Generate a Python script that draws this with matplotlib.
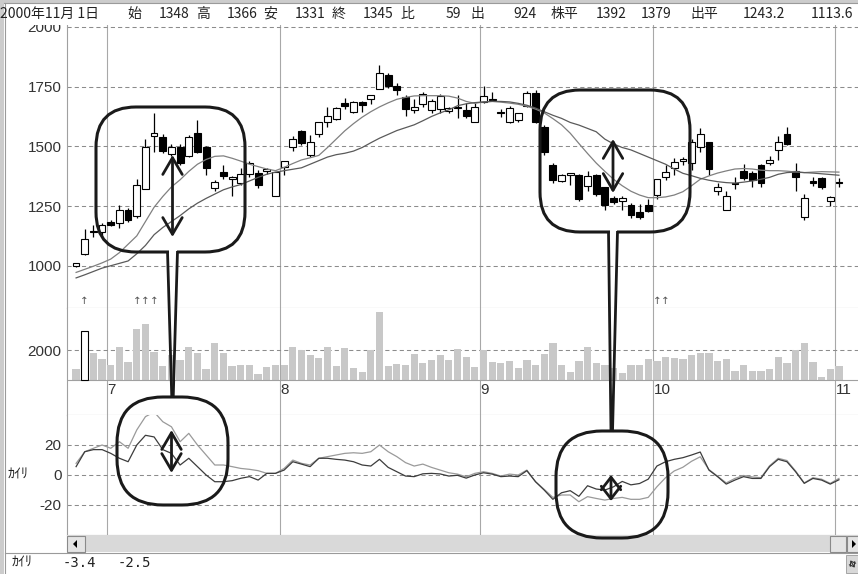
import numpy as np
import matplotlib
matplotlib.use("Agg")
import matplotlib.pyplot as plt
from matplotlib.patches import FancyBboxPatch, Rectangle, Polygon, FancyArrowPatch
import matplotlib.transforms as mtrans

plt.rcParams['font.family'] = ['Noto Sans CJK JP', 'DejaVu Sans']
plt.rcParams['lines.scale_dashes'] = False
NUM = ['Liberation Sans Narrow', 'Liberation Sans', 'DejaVu Sans']
JP = ['Noto Sans CJK JP', 'DejaVu Sans']

# daily candles, 2000-06-26 .. 2000-11-01 (89 trading days)
opens = [997, 1050, 1147, 1142, 1184, 1180, 1234, 1210, 1322, 1543,
         1539, 1468, 1497, 1460, 1556, 1497, 1326, 1393, 1364, 1347,
         1383, 1390, 1395, 1294, 1415, 1496, 1565, 1464, 1550, 1600,
         1616, 1683, 1645, 1687, 1700, 1740, 1798, 1753, 1708, 1650,
         1677, 1650, 1656, 1648, 1665, 1650, 1600, 1687, 1700, 1640,
         1603, 1610, 1669, 1722, 1582, 1422, 1356, 1378, 1380, 1334,
         1380, 1328, 1283, 1273, 1255, 1223, 1255, 1297, 1371, 1408,
         1440, 1429, 1499, 1520, 1311, 1234, 1348, 1397, 1390, 1422,
         1429, 1485, 1552, 1398, 1206, 1355, 1366, 1273, 1348]
highs = [1012, 1155, 1170, 1180, 1190, 1255, 1240, 1364, 1531, 1640,
         1550, 1510, 1510, 1548, 1610, 1500, 1360, 1420, 1375, 1410,
         1440, 1400, 1410, 1394, 1440, 1543, 1570, 1548, 1602, 1665,
         1665, 1702, 1690, 1688, 1715, 1840, 1806, 1765, 1715, 1700,
         1728, 1700, 1720, 1665, 1715, 1680, 1680, 1752, 1728, 1655,
         1670, 1640, 1730, 1735, 1590, 1430, 1385, 1390, 1385, 1398,
         1385, 1330, 1290, 1290, 1262, 1260, 1280, 1362, 1420, 1450,
         1455, 1530, 1575, 1520, 1345, 1315, 1370, 1426, 1395, 1425,
         1460, 1545, 1580, 1430, 1300, 1370, 1370, 1290, 1366]
lows = [995, 1045, 1120, 1120, 1168, 1160, 1185, 1200, 1320, 1477,
        1470, 1460, 1420, 1455, 1470, 1380, 1315, 1365, 1290, 1340,
        1370, 1325, 1385, 1294, 1380, 1482, 1505, 1457, 1540, 1582,
        1612, 1656, 1640, 1645, 1677, 1738, 1745, 1715, 1627, 1640,
        1665, 1640, 1640, 1640, 1620, 1620, 1600, 1682, 1690, 1622,
        1598, 1600, 1665, 1596, 1464, 1347, 1350, 1340, 1270, 1311,
        1290, 1235, 1260, 1234, 1200, 1195, 1225, 1280, 1360, 1380,
        1420, 1400, 1478, 1380, 1295, 1234, 1320, 1360, 1330, 1330,
        1420, 1443, 1505, 1315, 1190, 1335, 1320, 1250, 1331]
closes = [1010, 1113, 1140, 1170, 1171, 1234, 1190, 1339, 1497, 1556,
          1481, 1497, 1432, 1539, 1477, 1410, 1351, 1376, 1372, 1385,
          1432, 1339, 1403, 1394, 1439, 1530, 1513, 1518, 1600, 1628,
          1659, 1670, 1687, 1673, 1715, 1808, 1753, 1736, 1655, 1665,
          1718, 1690, 1712, 1660, 1660, 1627, 1663, 1711, 1693, 1638,
          1659, 1638, 1724, 1603, 1478, 1360, 1380, 1387, 1279, 1377,
          1301, 1255, 1266, 1283, 1213, 1203, 1231, 1362, 1394, 1436,
          1445, 1520, 1552, 1404, 1329, 1293, 1343, 1367, 1357, 1346,
          1443, 1518, 1510, 1370, 1283, 1345, 1329, 1286, 1345]
volumes = [733, 3289, 1800, 1422, 1022, 2244, 1222, 3400, 3755, 1866,
           955, 1690, 1355, 2244, 1800, 777, 2466, 1800, 955, 1022,
           1022, 422, 866, 1000, 1000, 2222, 2022, 1666, 1511, 2222,
           955, 2155, 800, 577, 2022, 4533, 955, 1088, 1022, 1733,
           1177, 1355, 1666, 1355, 2088, 1577, 866, 2000, 1222, 1155,
           1288, 800, 1355, 1022, 1733, 2466, 1022, 577, 1288, 2222,
           1155, 1000, 844, 511, 1000, 1000, 1422, 1288, 1577, 1511,
           1422, 1666, 1800, 1800, 1288, 1422, 644, 1000, 644, 644,
           733, 1577, 1155, 2000, 2466, 1222, 200, 777, 933]
volume_outlined = [1]

ma_short = [972, 985, 998, 1012, 1028, 1055, 1090, 1125, 1185, 1245,
            1290, 1330, 1360, 1395, 1425, 1445, 1458, 1460, 1450, 1438,
            1425, 1415, 1405, 1398, 1412, 1428, 1443, 1452, 1462, 1495,
            1530, 1565, 1595, 1622, 1645, 1665, 1682, 1697, 1705, 1711,
            1712, 1712, 1712, 1710, 1702, 1688, 1680, 1686, 1688, 1685,
            1681, 1676, 1668, 1656, 1640, 1616, 1590, 1555, 1512, 1470,
            1430, 1395, 1362, 1335, 1312, 1296, 1285, 1285, 1288, 1296,
            1310, 1335, 1362, 1376, 1388, 1397, 1405, 1407, 1405, 1400,
            1398, 1398, 1396, 1393, 1390, 1392, 1394, 1393, 1392]
ma_long = [949, 962, 976, 990, 1000, 1010, 1020, 1050, 1085, 1130,
           1160, 1185, 1210, 1238, 1262, 1282, 1300, 1318, 1330, 1340,
           1355, 1370, 1383, 1392, 1398, 1404, 1410, 1425, 1440, 1455,
           1465, 1471, 1480, 1495, 1515, 1534, 1550, 1566, 1578, 1590,
           1607, 1625, 1640, 1653, 1670, 1678, 1683, 1686, 1688, 1688,
           1686, 1680, 1672, 1660, 1645, 1630, 1617, 1600, 1589, 1575,
           1561, 1530, 1510, 1495, 1485, 1470, 1455, 1440, 1425, 1405,
           1387, 1377, 1366, 1358, 1352, 1348, 1346, 1350, 1355, 1362,
           1370, 1383, 1390, 1392, 1390, 1388, 1385, 1382, 1379]

dev_short = [5.4, 15.4, 16.8, 16.8, 14.3, 11, 8.7, 19.9, 26.4, 25.3,
             16.8, 14.3, 6.5, 11, 5.4, -0.2, -4.7, -4.7, -4, -2.4,
             -1.3, -3.6, 0.9, 0.9, 3.1, 8.7, 7.1, 5.4, 11, 11,
             10.3, 9.8, 8.7, 6.5, 5.8, 10.3, 4.9, 2, -0.9, -1.3,
             0.6, 0.9, 0.5, -0.9, -0.4, -2.3, -0.2, 1.3, 0.4, -1.3,
             -0.9, -1.3, 2.7, -4.7, -10.3, -16.5, -12.1, -10.7, -14.5, -7.4,
             -9.6, -10.3, -8.1, -4.5, -6.8, -5.9, -3, 5.8, 8.7, 10.3,
             11.4, 13.2, 15.2, 3.1, -1.3, -6.3, -3.6, -1.3, -2.5, -2.5,
             5.4, 10.3, 8.7, 2, -5.8, -2.5, -3.6, -6.3, -3.4]
dev_long = [7.6, 15.4, 17.7, 19.9, 17.7, 22.1, 17.7, 30, 38.9, 42,
            35.5, 32.1, 22.1, 27.7, 19.9, 13.2, 6.5, 6.5, 5.4, 4.2,
            3.6, 2.7, 0.9, 0.9, 4.2, 9.8, 7.6, 6.5, 11, 12.1,
            13.2, 14.3, 14.7, 14.3, 15.4, 19.9, 15.4, 12.1, 8.1, 5.8,
            7.1, 4.9, 3.1, 1.3, 0.4, -1.4, 0.9, 2, 0.9, -0.9,
            0.4, -0.2, 3.1, -4.7, -9.8, -15.2, -13.6, -13.6, -18.1, -14.7,
            -15.9, -17, -15.9, -15.2, -16.5, -16.5, -15.2, -8.1, -2, 2.5,
            5, 9, 12, 3.5, -1, -5.5, -2.5, -0.5, -1.5, -2,
            6, 11, 9.5, 2.5, -5.5, -2, -3, -5.8, -2.5]

month_starts = [4, 24, 47, 67, 88]
month_labels = ['7', '8', '9', '10', '11']
signal_days = [1, 7, 8, 9, 67, 68]

price_ticks = [1000, 1250, 1500, 1750, 2000]
volume_ticks = [2000]
dev_ticks = [-20, 0, 20]

# header tokens: (left x in px, text)
header = [(0, '2000年11月 1日'), (127, '始'), (159, '1348'),
          (196, '高'), (227, '1366'), (263, '安'), (295, '1331'),
          (332, '終'), (363, '1345'), (400, '比'), (446, '59'),
          (470, '出'), (513, '924'), (551, '株平'), (596, '1392'),
          (641, '1379'), (690, '出平'), (743, '1243.2'), (811, '1113.6')]
status_values = ['-3.4', '-2.5']

W, H = 858, 574
fig = plt.figure(figsize=(W / 100, H / 100), dpi=100)


def box(x0, y0, x1, y1):
    return [x0 / W, 1 - y1 / H, (x1 - x0) / W, (y1 - y0) / H]


ax_p = fig.add_axes(box(67, 25, 858, 308))
ax_v = fig.add_axes(box(67, 308, 858, 415))
ax_d = fig.add_axes(box(67, 415, 858, 535))

days = np.arange(len(closes))
grid_kw = dict(color='#8c8c8c', lw=0.75, ls=(0, (3, 2.2)), zorder=1)
spine_c = '#a0a0a0'

for ax in (ax_p, ax_v, ax_d):
    ax.set_xlim(-1.05, 90.2)
    ax.set_xticks([])
    for s in ('top', 'right'):
        ax.spines[s].set_visible(False)
    for s in ('left', 'bottom'):
        ax.spines[s].set_color(spine_c)
        ax.spines[s].set_linewidth(0.8)
    ax.tick_params(axis='y', length=0, pad=4, colors='#333333')
    for m in month_starts:
        ax.axvline(m - 0.45, color='#a8a8a8', lw=0.8, zorder=1)

# price panel
ax_p.set_ylim(823, 2008)
ax_p.set_yticks(price_ticks)
ax_p.set_yticklabels([str(t) for t in price_ticks], family=NUM, fontsize=11)
for t in price_ticks:
    ax_p.axhline(t, **grid_kw)

o = np.array(opens); c = np.array(closes)
ax_p.vlines(days, lows, highs, color='black', lw=0.9, zorder=3)
up = c >= o
body_lo = np.minimum(o, c)
body_h = np.maximum(np.abs(c - o), 5)
ax_p.bar(days[up], body_h[up], bottom=body_lo[up], width=0.78,
         facecolor='white', edgecolor='black', lw=0.8, zorder=4)
ax_p.bar(days[~up], body_h[~up], bottom=body_lo[~up], width=0.78,
         facecolor='black', edgecolor='black', lw=0.8, zorder=4)
ax_p.plot(days, ma_short, color='#808080', lw=0.9, zorder=5)
ax_p.plot(days, ma_long, color='#5a5a5a', lw=0.9, zorder=5)

sig_tr = mtrans.blended_transform_factory(ax_p.transData, ax_p.transAxes)
for d in signal_days:
    ax_p.text(d, 0.026, '↑', transform=sig_tr, ha='center', va='center',
              fontsize=7.5, color='#555555', family='DejaVu Sans')

# volume panel
ax_v.set_ylim(-2313, 4820)
ax_v.set_yticks(volume_ticks)
ax_v.set_yticklabels([str(t) for t in volume_ticks], family=NUM, fontsize=11)
for t in volume_ticks:
    ax_v.axhline(t, **grid_kw)
ax_v.axhline(0, color=spine_c, lw=0.8, zorder=3)
ax_v.bar(days, volumes, width=0.84, color='#c8c8c8', lw=0, zorder=2)
for d in volume_outlined:
    ax_v.bar(d, volumes[d], width=0.78, facecolor='white', edgecolor='black',
             lw=0.8, zorder=3)
lab_tr = mtrans.blended_transform_factory(ax_v.transData, ax_v.transAxes)
for m, lab in zip(month_starts, month_labels):
    ax_v.text(m - 0.4, 0.235, lab, transform=lab_tr, ha='left', va='center',
              family=NUM, fontsize=11, color='#333333')

# deviation panel
ax_d.set_ylim(-40.4, 40)
ax_d.set_yticks(dev_ticks)
ax_d.set_yticklabels([str(t) for t in dev_ticks], family=NUM, fontsize=11)
for t in dev_ticks:
    ax_d.axhline(t, **grid_kw)
ax_d.plot(days, dev_long, color='#9a9a9a', lw=0.9, zorder=3)
ax_d.plot(days, dev_short, color='#3c3c3c', lw=0.9, zorder=4)

# overlay in pixel coordinates: frame, header, callouts, scrollbar
ov = fig.add_axes([0, 0, 1, 1], zorder=10)
ov.set_xlim(0, W)
ov.set_ylim(H, 0)
ov.axis('off')
ov.patch.set_visible(False)

ov.add_patch(Rectangle((5, 3), W - 5, 22, facecolor='white', edgecolor='none', zorder=1))
ov.add_patch(Rectangle((0, 0), 4, H, facecolor='#cccccc', edgecolor='none', zorder=2))
ov.add_patch(Rectangle((0, 0), W, 3, facecolor='#cccccc', edgecolor='none', zorder=2))
ov.plot([4.5, 4.5], [3, H], color='#9a9a9a', lw=0.8, zorder=2)
ov.plot([4, W], [3, 3], color='#9a9a9a', lw=0.8, zorder=2)

for x, s in header:
    ov.text(x, 14, s, ha='left', va='center', family=JP, fontsize=10,
            color='#222222', zorder=3)

ov.text(8, 475, 'ｶｲﾘ', ha='left', va='center', family=JP, fontsize=10, color='#222222')

lc = '#1a1a1a'
lw_call = 2.2
for (x0, y0, x1, y1, r) in [(96, 107, 245, 252, 40), (117, 397, 228, 505, 46),
                            (540, 90, 690, 232, 40), (556, 431, 668, 538, 46)]:
    ov.add_patch(FancyBboxPatch((x0, y0), x1 - x0, y1 - y0,
                                boxstyle='round,pad=0,rounding_size=%d' % r,
                                facecolor='none', edgecolor=lc, lw=lw_call, zorder=6))
# pointer tails
ov.add_patch(Rectangle((169, 248), 8, 8, facecolor='white', edgecolor='none', zorder=7))
ov.plot([167.5, 171.8], [251, 398], color=lc, lw=2.0, zorder=8, solid_capstyle='butt')
ov.plot([177.5, 173.2], [251, 398], color=lc, lw=2.0, zorder=8, solid_capstyle='butt')
ov.add_patch(Rectangle((609.5, 228), 7, 8, facecolor='white', edgecolor='none', zorder=7))
ov.plot([608.5, 611], [231, 432], color=lc, lw=2.0, zorder=8, solid_capstyle='butt')
ov.plot([617.5, 612.5], [231, 432], color=lc, lw=2.0, zorder=8, solid_capstyle='butt')

for (x, ya, yb, hl, hw) in [(172.5, 155, 237, 0.6, 0.35), (171.5, 430, 473, 0.6, 0.35),
                            (613, 139, 193, 0.6, 0.35), (611, 475, 501, 0.45, 0.35)]:
    ov.add_patch(FancyArrowPatch((x, ya), (x, yb),
                                 arrowstyle='<->,head_length=%s,head_width=%s' % (hl, hw),
                                 mutation_scale=20, color=lc, lw=2.0,
                                 shrinkA=0, shrinkB=0, zorder=8))

# scrollbar
ov.add_patch(Rectangle((67, 535), W - 67, 17, facecolor='#d9d9d9', edgecolor='none', zorder=3))
ov.add_patch(Rectangle((67, 536), 18, 16, facecolor='#e4e4e4', edgecolor='#8a8a8a', lw=0.8, zorder=4))
ov.add_patch(Polygon([(73, 544), (77, 540), (77, 548)], closed=True, facecolor='black', zorder=5))
ov.add_patch(Rectangle((830, 536), 16, 16, facecolor='#e4e4e4', edgecolor='#8a8a8a', lw=0.8, zorder=4))
ov.add_patch(Rectangle((847, 536), 12, 16, facecolor='#e4e4e4', edgecolor='#8a8a8a', lw=0.8, zorder=4))
ov.add_patch(Polygon([(852, 540), (852, 548), (856, 544)], closed=True, facecolor='black', zorder=5))

# status row
ov.plot([5, W], [553, 553], color='#9a9a9a', lw=0.8, zorder=3)
ov.text(12, 563, 'ｶｲﾘ', ha='left', va='center', family=JP, fontsize=10, color='#222222')
for x, s in zip([63, 118], status_values):
    ov.text(x, 563, s, ha='left', va='center', family='DejaVu Sans Mono',
            fontsize=10, color='#222222')
ov.add_patch(Rectangle((846, 555), 12, 18, facecolor='#d8d8d8', edgecolor='#9a9a9a', lw=0.6, zorder=4))
ov.add_patch(FancyArrowPatch((849, 558), (856, 570), arrowstyle='<->,head_length=2,head_width=1.5',
                             mutation_scale=1.5, color='#333333', lw=0.8, zorder=5))

fig.savefig('out.png', dpi=100)
